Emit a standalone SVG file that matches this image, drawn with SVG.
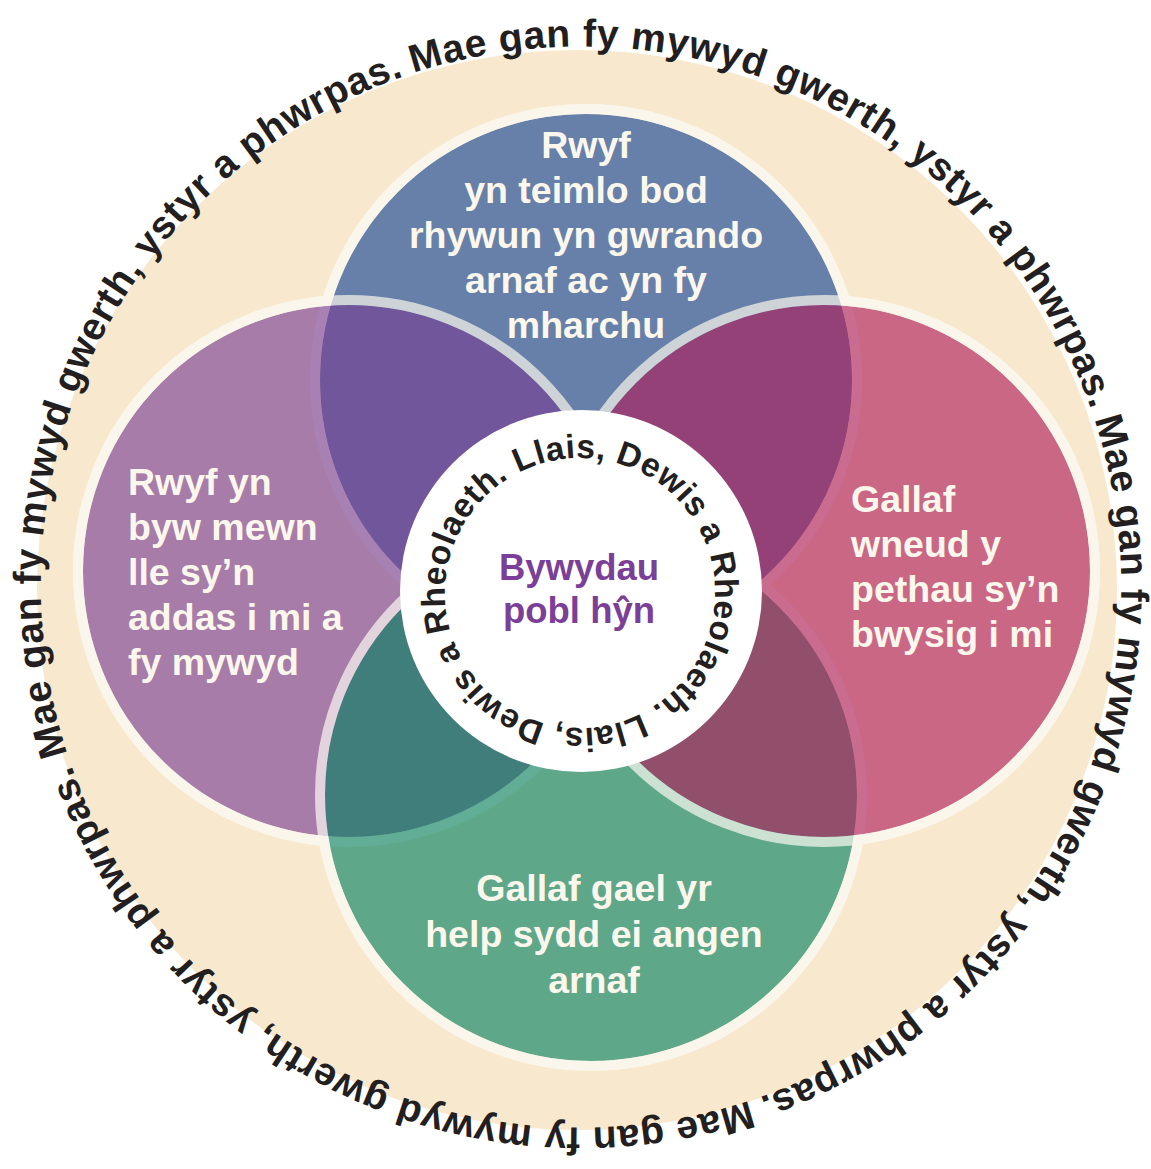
<svg xmlns="http://www.w3.org/2000/svg" xmlns:xlink="http://www.w3.org/1999/xlink" width="1151" height="1169" viewBox="0 0 1151 1169">
<style>
.base{fill:none;stroke:#fbf6ec;stroke-width:10}
.edge{fill:none;stroke:#fbf6ec;stroke-width:10;stroke-opacity:0.7}
.lbl{font-family:"Liberation Sans",Arial,Helvetica,sans-serif;font-weight:bold;font-size:37.5px;fill:#fcf7ec}
.mid{text-anchor:middle}
.ring{font-family:"Liberation Sans",Arial,Helvetica,sans-serif;font-weight:bold;fill:#231f20}
.outer{font-size:39px}
.inner{font-size:33.5px}
.hub{font-family:"Liberation Sans",Arial,Helvetica,sans-serif;font-weight:bold;font-size:36.5px;fill:#7b3f98;text-anchor:middle}
</style>
<defs>
<path id="outerPath" d="M67.43,753.87 A540,540 0 1,1 1094.57,420.13 A540,540 0 1,1 67.43,753.87"/>
<path id="innerPath" d="M518.71,472.71 A135,135 0 1,1 641.29,713.29 A135,135 0 1,1 518.71,472.71"/>
</defs>
<rect width="1151" height="1169" fill="#ffffff"/>
<g id="ring-bg">
<circle cx="577" cy="590" r="540" fill="#f8e8cd"/>
</g>
<g id="base-edges">
<circle class="base" cx="586" cy="380" r="271"/>
<circle class="base" cx="349" cy="571" r="271"/>
<circle class="base" cx="591" cy="795" r="271"/>
<circle class="base" cx="824" cy="571" r="271"/>
</g>
<g id="node-top">
<circle cx="586" cy="380" r="266" fill="#6780a9"/>
<circle class="edge" cx="586" cy="380" r="271"/>
<text class="lbl mid" x="586" y="158">Rwyf</text>
<text class="lbl mid" x="586" y="203">yn teimlo bod</text>
<text class="lbl mid" x="586" y="248">rhywun yn gwrando</text>
<text class="lbl mid" x="586" y="293">arnaf ac yn fy</text>
<text class="lbl mid" x="586" y="338">mharchu</text>
</g>
<g id="node-left">
<circle cx="349" cy="571" r="266" fill="#783e95" fill-opacity="0.64"/>
<circle class="edge" cx="349" cy="571" r="271"/>
<text class="lbl" x="128" y="495">Rwyf yn</text>
<text class="lbl" x="128" y="540">byw mewn</text>
<text class="lbl" x="128" y="585">lle sy’n</text>
<text class="lbl" x="128" y="630">addas i mi a</text>
<text class="lbl" x="128" y="675">fy mywyd</text>
</g>
<g id="node-bottom">
<circle cx="591" cy="795" r="266" fill="#017f60" fill-opacity="0.62"/>
<circle class="edge" cx="591" cy="795" r="271"/>
<text class="lbl mid" x="594" y="901">Gallaf gael yr</text>
<text class="lbl mid" x="594" y="947">help sydd ei angen</text>
<text class="lbl mid" x="594" y="993">arnaf</text>
</g>
<g id="node-right">
<circle cx="824" cy="571" r="266" fill="#ad1d5a" fill-opacity="0.64"/>
<circle class="edge" cx="824" cy="571" r="271"/>
<text class="lbl" x="851" y="512">Gallaf</text>
<text class="lbl" x="851" y="557">wneud y</text>
<text class="lbl" x="851" y="602">pethau sy’n</text>
<text class="lbl" x="851" y="647">bwysig i mi</text>
</g>
<g id="node-centre">
<circle cx="581" cy="591" r="181" fill="#ffffff"/>
<text class="ring inner"><textPath href="#innerPath" startOffset="0" textLength="412" lengthAdjust="spacing">Llais, Dewis a Rheolaeth.</textPath></text>
<text class="ring inner"><textPath href="#innerPath" startOffset="424.1" textLength="412" lengthAdjust="spacing">Llais, Dewis a Rheolaeth.</textPath></text>
<text class="hub" x="579" y="580">Bywydau</text>
<text class="hub" x="579" y="623">pobl hŷn</text>
</g>
<g id="outer-text">
<text class="ring outer"><textPath href="#outerPath" startOffset="0" textLength="838" lengthAdjust="spacing">Mae gan fy mywyd gwerth, ystyr a phwrpas.</textPath></text>
<text class="ring outer"><textPath href="#outerPath" startOffset="848.2" textLength="838" lengthAdjust="spacing">Mae gan fy mywyd gwerth, ystyr a phwrpas.</textPath></text>
<text class="ring outer"><textPath href="#outerPath" startOffset="1696.5" textLength="838" lengthAdjust="spacing">Mae gan fy mywyd gwerth, ystyr a phwrpas.</textPath></text>
<text class="ring outer"><textPath href="#outerPath" startOffset="2544.7" textLength="838" lengthAdjust="spacing">Mae gan fy mywyd gwerth, ystyr a phwrpas.</textPath></text>
</g>
<g id="connectors"/>
</svg>
